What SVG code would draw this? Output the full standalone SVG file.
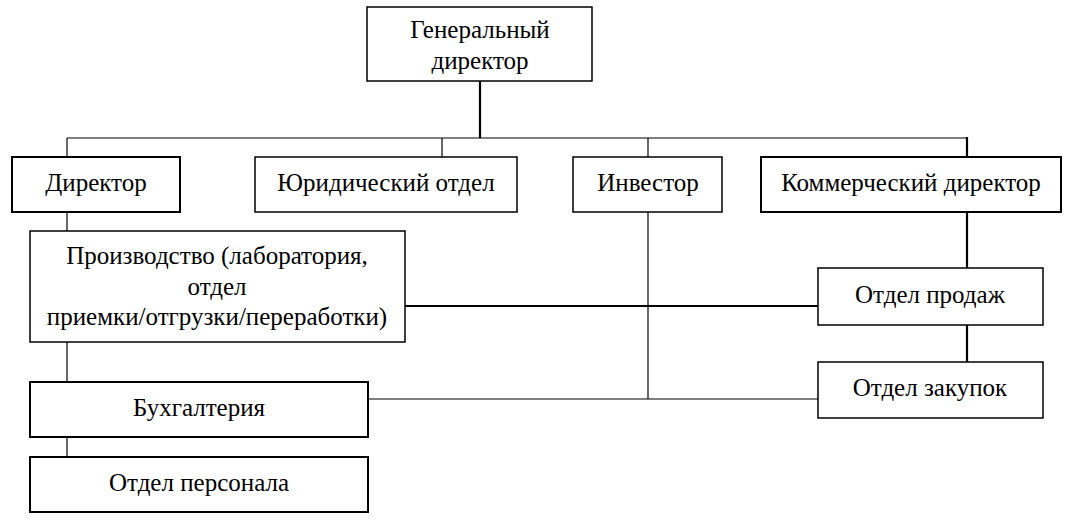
<svg xmlns="http://www.w3.org/2000/svg" width="1068" height="529" viewBox="0 0 1068 529">
<style>
.b{fill:#fff;stroke:#000;stroke-width:1.5}
.bt{fill:#fff;stroke:#000;stroke-width:2}
.t{font-size:25px;fill:#000;text-anchor:middle}
.c{stroke:#000;stroke-width:1.2;fill:none}
.ct{stroke:#000;stroke-width:2.2;fill:none}
</style>
<rect width="1068" height="529" fill="#fff"/>
<g id="connectors">
<line class="ct" x1="480" y1="81" x2="480" y2="138"/>
<line class="c" x1="67" y1="138" x2="967" y2="138"/>
<line class="c" x1="67" y1="138" x2="67" y2="157"/>
<line class="c" x1="442" y1="138" x2="442" y2="157"/>
<line class="c" x1="648" y1="138" x2="648" y2="157"/>
<line class="ct" x1="967" y1="137" x2="967" y2="157"/>
<line class="c" x1="67" y1="212" x2="67" y2="231"/>
<line class="c" x1="67" y1="342" x2="67" y2="382"/>
<line class="c" x1="67" y1="437" x2="67" y2="457"/>
<line class="c" x1="648" y1="212" x2="648" y2="399"/>
<line class="ct" x1="405" y1="306" x2="818" y2="306"/>
<line class="c" x1="368" y1="399" x2="818" y2="399"/>
<line class="ct" x1="967" y1="212" x2="967" y2="268"/>
<line class="ct" x1="967" y1="325" x2="967" y2="362"/>
</g>
<g font-family="Liberation Serif, Times New Roman, DejaVu Serif, serif">
<g id="gen"><rect class="b" x="367" y="7" width="225" height="74"/><text class="t" x="480" y="38">Генеральный</text><text class="t" x="480" y="69">директор</text></g>
<g id="dir"><rect class="bt" x="12" y="157" width="168" height="55"/><text class="t" x="96" y="191">Директор</text></g>
<g id="yur"><rect class="b" x="255" y="157" width="262" height="55"/><text class="t" x="386" y="191">Юридический отдел</text></g>
<g id="inv"><rect class="b" x="573" y="157" width="149" height="55"/><text class="t" x="648" y="191">Инвестор</text></g>
<g id="kom"><rect class="bt" x="761" y="157" width="300" height="55"/><text class="t" x="911" y="191">Коммерческий директор</text></g>
<g id="prod"><rect class="b" x="30" y="231" width="375" height="111"/><text class="t" x="217" y="264">Производство (лаборатория,</text><text class="t" x="217" y="295">отдел</text><text class="t" x="217" y="325">приемки/отгрузки/переработки)</text></g>
<g id="buh"><rect class="bt" x="30" y="382" width="338" height="55"/><text class="t" x="199" y="416">Бухгалтерия</text></g>
<g id="pers"><rect class="bt" x="30" y="457" width="338" height="55"/><text class="t" x="199" y="491">Отдел персонала</text></g>
<g id="sales"><rect class="b" x="818" y="268" width="225" height="57"/><text class="t" x="930" y="303">Отдел продаж</text></g>
<g id="purch"><rect class="b" x="818" y="362" width="225" height="56"/><text class="t" x="930" y="396">Отдел закупок</text></g>
</g>
</svg>
